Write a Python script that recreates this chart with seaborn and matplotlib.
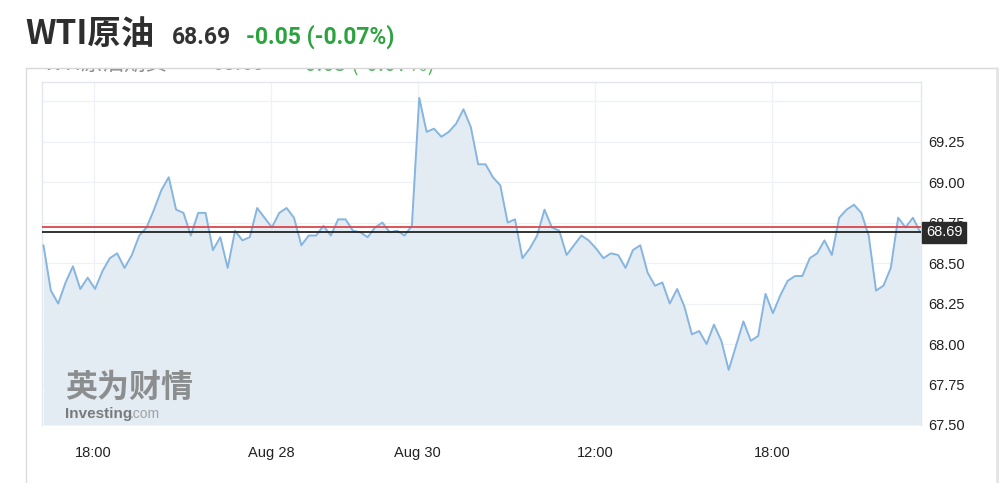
import numpy as np
import pandas as pd
import matplotlib
matplotlib.use("Agg")
import matplotlib.pyplot as plt
from matplotlib.patches import Rectangle
from matplotlib.lines import Line2D
import seaborn as sns

# ---------------- data ----------------
prices = [68.61, 68.33, 68.25, 68.38, 68.48, 68.34, 68.41, 68.34, 68.45, 68.53,
          68.56, 68.47, 68.55, 68.67, 68.72, 68.83, 68.95, 69.03, 68.83, 68.81,
          68.67, 68.81, 68.81, 68.58, 68.66, 68.47, 68.70, 68.64, 68.66, 68.84,
          68.78, 68.72, 68.81, 68.84, 68.78, 68.61, 68.67, 68.67, 68.73, 68.67,
          68.77, 68.77, 68.70, 68.69, 68.66, 68.72, 68.75, 68.69, 68.70, 68.67,
          68.73, 69.52, 69.31, 69.33, 69.28, 69.31, 69.36, 69.45, 69.34, 69.11,
          69.11, 69.03, 68.98, 68.75, 68.77, 68.53, 68.59, 68.67, 68.83, 68.72,
          68.70, 68.55, 68.61, 68.67, 68.64, 68.59, 68.53, 68.56, 68.55, 68.47,
          68.58, 68.61, 68.44, 68.36, 68.38, 68.25, 68.34, 68.23, 68.06, 68.08,
          68.00, 68.12, 68.02, 67.84, 67.99, 68.14, 68.02, 68.05, 68.31, 68.19,
          68.30, 68.39, 68.42, 68.42, 68.53, 68.56, 68.64, 68.55, 68.78, 68.83,
          68.86, 68.81, 68.67, 68.33, 68.36, 68.47, 68.78, 68.72, 68.78, 68.69]
x_tick_pos = [6.8, 30.9, 50.8, 74.9, 98.9]
x_tick_labels = ["18:00", "Aug 28", "Aug 30", "12:00", "18:00"]
y_ticks = [67.50, 67.75, 68.00, 68.25, 68.50, 68.75, 69.00, 69.25, 69.50]
y_tick_labels = ["67.50", "67.75", "68.00", "68.25", "68.50", "68.75", "69.00", "69.25", ""]
prev_close = 68.725
last_price = 68.69
title_name = "WTI原油"
sub_name = "WTI原油期货"
last_text = "68.69"
change_text = "-0.05 (-0.07%)"

df = pd.DataFrame({"i": np.arange(len(prices)), "price": prices})

# ---------------- style ----------------
sns.set_theme(style="white")
plt.rcParams['font.family'] = ['Liberation Sans', 'Noto Sans CJK SC', 'DejaVu Sans']

W, H = 1000, 483
fig = plt.figure(figsize=(W / 100, H / 100), dpi=100)
fig.patch.set_facecolor("white")

def fx(px):
    return px / W

def fy(py):
    return 1 - py / H

ax = fig.add_axes([fx(42), fy(425), fx(921) - fx(42), fy(81.7) - fy(425)])
ax.set_facecolor("white")

line_color = "#86b5e0"
fill_color = "#e3ecf3"

ax.fill_between(df["i"], df["price"], 67.5, color=fill_color, zorder=1, linewidth=0)
sns.lineplot(data=df, x="i", y="price", ax=ax, color=line_color, linewidth=1.4, zorder=3)

ax.axhline(prev_close, color="#d9474b", linewidth=1.3, zorder=4)
ax.axhline(last_price, color="#222222", linewidth=1.3, zorder=4)

ax.set_xlim(-0.2, 119.1)
ax.set_ylim(67.5, 69.62)

ax.set_xticks(x_tick_pos)
ax.set_xticklabels(x_tick_labels)
ax.set_yticks(y_ticks)
ax.set_yticklabels(y_tick_labels)
ax.yaxis.tick_right()
ax.tick_params(axis="y", length=0, pad=5, labelsize=10.5, labelcolor="#222222")
ax.tick_params(axis="x", length=0, pad=15, labelsize=10.5, labelcolor="#222222")
ax.set_xlabel("")
ax.set_ylabel("")
ax.grid(True, color="#eef1f5", linewidth=0.9, zorder=0)
ax.set_axisbelow(True)
for s in ax.spines.values():
    s.set_color("#e3e6ec")
    s.set_linewidth(1.0)
ax.spines["bottom"].set_visible(False)

# price label box
ax.annotate(last_text, xy=(1.0, last_price), xycoords=("axes fraction", "data"),
            xytext=(3.5, 0), textcoords="offset points", ha="left", va="center",
            fontsize=10.5, color="white", zorder=20, annotation_clip=False,
            bbox=dict(boxstyle="square,pad=0.25", fc="#2b2b2b", ec="#2b2b2b"))

# watermark
ax.text(0.026, 0.062, "英为财情", transform=ax.transAxes, fontsize=23, fontweight="bold",
        color="#7d7d7d", alpha=0.85, family=["Noto Sans CJK SC"], zorder=2,
        ha="left", va="bottom")
ax.text(0.026, 0.012, "Investing", transform=ax.transAxes, fontsize=11, fontweight="bold",
        color="#6e6e6e", alpha=0.9, zorder=2, ha="left", va="bottom")
ax.text(0.1, 0.012, ".com", transform=ax.transAxes, fontsize=10,
        color="#9a9a9a", alpha=0.9, zorder=2, ha="left", va="bottom")

# cut-off subtitle row (hidden behind the header background)
fig.text(fx(43), fy(70.5), sub_name, fontsize=15.5, color="#8a8a8a",
         family=["Noto Sans CJK SC"], zorder=1)
fig.text(fx(212), fy(70.5), last_text, fontsize=15.5, color="#8a8a8a",
         family=["Noto Sans CJK SC"], zorder=1)
fig.text(fx(297), fy(70.5), change_text, fontsize=15.5, color="#48b95a",
         family=["Noto Sans CJK SC"], zorder=1)
fig.patches.append(Rectangle((0, fy(68)), 1, 1 - fy(68), transform=fig.transFigure,
                             facecolor="white", edgecolor="none", zorder=5))

# card borders
fig.lines.append(Line2D([fx(26), fx(997)], [fy(68), fy(68)], transform=fig.transFigure,
                        color="#d8d8d8", linewidth=1.0, zorder=6))
fig.lines.append(Line2D([fx(26), fx(26)], [fy(68), 0], transform=fig.transFigure,
                        color="#dcdcdc", linewidth=1.0, zorder=6))
fig.lines.append(Line2D([fx(997), fx(997)], [fy(68), 0], transform=fig.transFigure,
                        color="#e4e4e4", linewidth=2.0, zorder=6))

# header
fig.text(fx(25), fy(44), title_name, fontsize=24, fontweight="bold", color="#2e2e2e",
         family=["Noto Sans CJK SC"], zorder=7)
fig.text(fx(172), fy(44), last_text, fontsize=16.5, fontweight="bold", color="#333333",
         family=["Roboto", "Noto Sans CJK SC"], zorder=7)
fig.text(fx(246), fy(44), change_text, fontsize=16.5, fontweight="bold", color="#2ba33f",
         family=["Roboto", "Noto Sans CJK SC"], zorder=7)

fig.savefig("out.png", dpi=100)
